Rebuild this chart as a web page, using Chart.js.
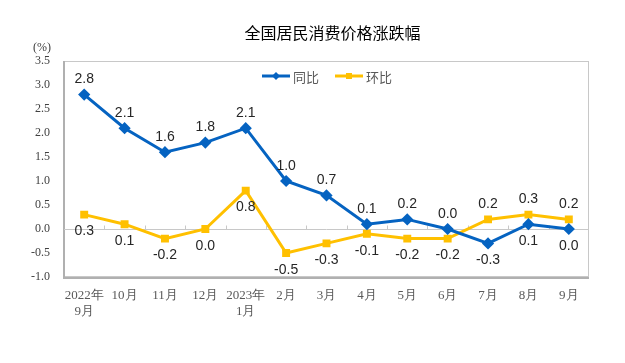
<!DOCTYPE html>
<html><head><meta charset="utf-8">
<script src="https://cdn.jsdelivr.net/npm/chart.js@4"></script>
<style>html,body{margin:0;padding:0;background:#fff}</style>
</head><body>
<canvas id="c" width="625" height="363" style="width:625px;height:363px;display:block"></canvas>
<script>
const categories = [["2022年","9月"],"10月","11月","12月",["2023年","1月"],"2月","3月","4月","5月","6月","7月","8月","9月"];
const yoyValues = [2.8,2.1,1.6,1.8,2.1,1.0,0.7,0.1,0.2,0.0,-0.3,0.1,0.0];
const momValues = [0.3,0.1,-0.2,0.0,0.8,-0.5,-0.3,-0.1,-0.2,-0.2,0.2,0.3,0.2];
const yTickValues = [-1.0,-0.5,0.0,0.5,1.0,1.5,2.0,2.5,3.0,3.5];
const seriesNames = ["同比","环比"];
const titleText = "全国居民消费价格涨跌幅";
const unitText = "(%)";

// label placement: 1 = above, -1 = below
const yoySide = [1,1,1,1,1,1,1,1,1,1,-1,-1,-1];
const momSide = [-1,-1,-1,-1,-1,-1,-1,-1,-1,-1,1,1,1];

const BLUE = "#0563C1";
const YELLOW = "#FFC000";
const SERIF = "'Liberation Serif','Times New Roman',serif";
const SANS = "'Liberation Sans',Arial,sans-serif";

const decor = {
  id: "decor",
  beforeDatasetsDraw(chart) {
    const {ctx, chartArea: a, scales} = chart;
    ctx.save();
    // frame
    ctx.strokeStyle = "#c8c8c8";
    ctx.lineWidth = 1;
    ctx.strokeRect(a.left + 0.5, a.top + 0.5, a.right - a.left - 1, a.bottom - a.top - 1);
    // left and bottom axis lines
    ctx.strokeStyle = "#b0b0b0";
    ctx.lineWidth = 2;
    ctx.beginPath();
    ctx.moveTo(a.left, a.top); ctx.lineTo(a.left, a.bottom + 1);
    ctx.lineTo(a.right, a.bottom + 1);
    ctx.stroke();
    // zero line with ticks
    const y0 = Math.round(scales.y.getPixelForValue(0)) + 0.5;
    ctx.strokeStyle = "#c8c8c8";
    ctx.lineWidth = 1;
    ctx.beginPath();
    ctx.moveTo(a.left, y0); ctx.lineTo(a.right, y0);
    const xs = scales.x;
    for (let i = 1; i < categories.length; i++) {
      const bx = Math.round((xs.getPixelForValue(i - 1) + xs.getPixelForValue(i)) / 2) + 0.5;
      ctx.moveTo(bx, y0); ctx.lineTo(bx, y0 - 4);
    }
    ctx.stroke();
    ctx.restore();
  },
  afterDatasetsDraw(chart) {
    const {ctx} = chart;
    ctx.save();
    ctx.font = "14px " + SANS;
    ctx.fillStyle = "#262626";
    ctx.textAlign = "center";
    ctx.textBaseline = "middle";
    const sides = [yoySide, momSide];
    const vals = [yoyValues, momValues];
    chart.data.datasets.forEach((ds, di) => {
      const meta = chart.getDatasetMeta(di);
      meta.data.forEach((pt, i) => {
        const s = sides[di][i];
        const off = s > 0 ? -15 : 17;
        ctx.fillText(vals[di][i].toFixed(1), pt.x, pt.y + off);
      });
    });
    ctx.restore();
  },
  afterDraw(chart) {
    const {ctx, chartArea: a} = chart;
    ctx.save();
    // title
    ctx.fillStyle = "#000";
    ctx.font = "16px 'Noto Sans CJK SC',sans-serif";
    ctx.textAlign = "center";
    ctx.textBaseline = "middle";
    ctx.fillText(titleText, (a.left + a.right) / 2 + 6, 33);
    // unit
    ctx.fillStyle = "#404040";
    ctx.font = "12px " + SERIF;
    ctx.fillText(unitText, 42, 48);
    // legend
    const items = [
      {name: seriesNames[0], color: BLUE, style: "diamond", x: 262},
      {name: seriesNames[1], color: YELLOW, style: "square", x: 335}
    ];
    const ly = a.top + 15;
    ctx.font = "13px 'Noto Sans CJK SC',sans-serif";
    ctx.textAlign = "left";
    items.forEach(it => {
      ctx.strokeStyle = it.color;
      ctx.fillStyle = it.color;
      ctx.lineWidth = 3;
      ctx.beginPath();
      ctx.moveTo(it.x, ly); ctx.lineTo(it.x + 28, ly);
      ctx.stroke();
      const cx = it.x + 14;
      ctx.beginPath();
      if (it.style === "diamond") {
        ctx.moveTo(cx, ly - 4); ctx.lineTo(cx + 4, ly); ctx.lineTo(cx, ly + 4); ctx.lineTo(cx - 4, ly);
        ctx.closePath(); ctx.fill();
      } else {
        ctx.fillRect(cx - 3, ly - 3, 6, 6);
      }
      ctx.fillStyle = "#595959";
      ctx.fillText(it.name, it.x + 31, ly + 1);
    });
    ctx.restore();
  }
};

new Chart(document.getElementById("c"), {
  type: "line",
  data: {
    labels: categories,
    datasets: [
      {label: seriesNames[0], data: yoyValues, borderColor: BLUE, backgroundColor: BLUE,
       borderWidth: 3, pointStyle: "rectRot", pointRadius: 4, pointHoverRadius: 4, tension: 0},
      {label: seriesNames[1], data: momValues, borderColor: YELLOW, backgroundColor: YELLOW,
       borderWidth: 3, pointStyle: "rect", pointRadius: 3.5, pointHoverRadius: 3.5, tension: 0}
    ]
  },
  options: {
    responsive: false,
    animation: false,
    devicePixelRatio: 1,
    layout: {padding: {top: 61, right: 36, left: 0, bottom: 0}},
    plugins: {legend: {display: false}, title: {display: false}, tooltip: {enabled: false}},
    scales: {
      x: {
        offset: true,
        grid: {display: false, drawTicks: false},
        border: {display: false},
        ticks: {font: {family: SERIF, size: 13}, color: "#595959", padding: 11, maxRotation: 0, autoSkip: false},
        afterFit(s) { s.height = 86; }
      },
      y: {
        min: -1, max: 3.5,
        afterBuildTicks(s) { s.ticks = yTickValues.map(v => ({value: v})); },
        grid: {display: false, drawTicks: false},
        border: {display: false},
        ticks: {font: {family: SERIF, size: 12}, color: "#404040", padding: 14,
                callback: v => Number(v).toFixed(1)},
        afterFit(s) { s.width = 64; }
      }
    }
  },
  plugins: [decor]
});
</script>
</body></html>
